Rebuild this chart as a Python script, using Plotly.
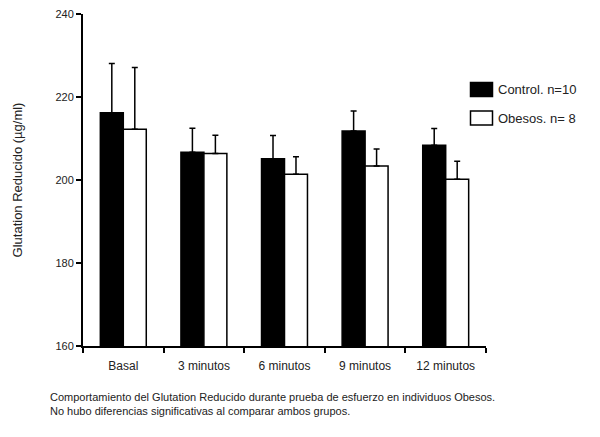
import plotly.graph_objects as go

categories = ["Basal", "3 minutos", "6 minutos", "9 minutos", "12 minutos"]
control_mean = [216.2, 206.7, 205.1, 211.8, 208.4]
control_err = [11.9, 5.8, 5.6, 4.8, 4.0]
obesos_mean = [212.2, 206.4, 201.4, 203.4, 200.2]
obesos_err = [14.9, 4.4, 4.2, 4.1, 4.3]
y_ticks = [160, 180, 200, 220, 240]
legend_labels = ["Control. n=10", "Obesos. n= 8"]
caption = ("Comportamiento del Glutation Reducido durante prueba de esfuerzo en individuos Obesos.<br>"
           "No hubo diferencias significativas al comparar ambos grupos.")

FONT = "Liberation Sans, Arial, sans-serif"

fig = go.Figure()
fig.add_trace(go.Bar(
    x=categories, y=control_mean, name=legend_labels[0],
    marker=dict(color="black", line=dict(color="black", width=1.5)),
    error_y=dict(type="data", array=control_err, arrayminus=[0]*5, symmetric=False,
                 color="black", thickness=1.5, width=3),
    showlegend=False,
))
fig.add_trace(go.Bar(
    x=categories, y=obesos_mean, name=legend_labels[1],
    marker=dict(color="white", line=dict(color="black", width=1.5)),
    error_y=dict(type="data", array=obesos_err, arrayminus=[0]*5, symmetric=False,
                 color="black", thickness=1.5, width=3),
    showlegend=False,
))

# custom legend (paper coords)
fills = ["black", "white"]
for i, (lab, fc) in enumerate(zip(legend_labels, fills)):
    y0 = 82.5 + i * 28.5
    fig.add_shape(type="rect", xref="paper", yref="paper",
                  x0=(470.5 - 83) / 403, x1=(492.5 - 83) / 403,
                  y0=(346 - (y0 + 14)) / 332, y1=(346 - y0) / 332,
                  fillcolor=fc, line=dict(color="black", width=1.5))
    fig.add_annotation(xref="paper", yref="paper", x=(496 - 83) / 403,
                       y=(346 - (y0 + 7)) / 332, text=lab, showarrow=False,
                       xanchor="left", yanchor="middle",
                       font=dict(family=FONT, size=13, color="#222"))

fig.add_annotation(xref="paper", yref="paper", x=(48 - 83) / 403, y=(346 - 389) / 332,
                   text=caption, showarrow=False, xanchor="left", yanchor="top", align="left",
                   font=dict(family=FONT, size=11, color="#222"))

fig.update_layout(
    width=600, height=437, autosize=False,
    margin=dict(l=75, r=122, t=6, b=99),
    paper_bgcolor="white", plot_bgcolor="white",
    barmode="group", bargap=0.43, bargroupgap=0,
    font=dict(family=FONT, size=11, color="#222"),
)
fig.update_xaxes(
    showline=True, linecolor="black", linewidth=2,
    ticks="outside", tickson="boundaries", ticklen=5, tickwidth=1.5, tickcolor="black",
    tickfont=dict(family=FONT, size=12, color="#222"), showgrid=False,
    ticklabelstandoff=8, automargin=False,
)
fig.update_yaxes(
    range=[160, 240], tickvals=y_ticks, showline=True, linecolor="black", linewidth=2,
    ticks="outside", ticklen=5, tickwidth=1.5, tickcolor="black", showgrid=False, zeroline=False,
    tickfont=dict(family=FONT, size=11, color="#222"), ticklabeloverflow="allow",
    automargin=False,
    title=dict(text="Glutation Reducido (µg/ml)", font=dict(family=FONT, size=13, color="#222"), standoff=30),
)

fig.write_html("out.html")
